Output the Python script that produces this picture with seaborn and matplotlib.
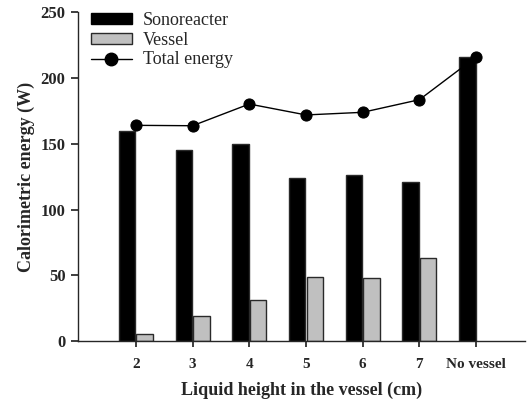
import pandas as pd
import matplotlib
matplotlib.use("Agg")
import matplotlib.pyplot as plt
import seaborn as sns
from matplotlib.patches import Patch
from matplotlib.lines import Line2D

# Data
heights = ['2', '3', '4', '5', '6', '7', 'No vessel']
sonoreacter = [159.5, 145.2, 149.8, 123.7, 126.5, 121.1, 216.0]
vessel = [5.3, 19.3, 30.9, 48.6, 48.1, 63.1]
total_energy = [164.0, 163.7, 180.2, 171.9, 173.9, 183.5, 216.0]

sns.set_theme(style='ticks')
plt.rcParams.update({
    'font.family': ['Liberation Serif', 'DejaVu Serif'],
    'axes.linewidth': 1.0,
})

rows = [(h, 'Sonoreacter', v) for h, v in zip(heights, sonoreacter)]
rows += [(h, 'Vessel', v) for h, v in zip(heights, vessel)]
df = pd.DataFrame(rows, columns=['height', 'series', 'energy'])
df_tot = pd.DataFrame({'height': heights, 'energy': total_energy})

fig = plt.figure(figsize=(5.27, 4.07), dpi=100)
ax = fig.add_axes([0.148, 0.162, 0.848, 0.808])

sns.barplot(data=df, x='height', y='energy', hue='series', order=heights,
            hue_order=['Sonoreacter', 'Vessel'],
            palette={'Sonoreacter': 'black', 'Vessel': '#c0c0c0'},
            width=0.62, gap=0.06, edgecolor='#2a2a2a', linewidth=1.0,
            errorbar=None, legend=False, ax=ax)

sns.pointplot(data=df_tot, x='height', y='energy', order=heights,
              color='black', markers='o', markersize=8, linewidth=1.0,
              errorbar=None, ax=ax)
for coll in ax.collections:
    coll.set_zorder(5)

ax.set_xlim(-1.02, 6.86)
ax.set_ylim(0, 250)
ax.set_yticks(range(0, 251, 50))
sns.despine(ax=ax)

ax.tick_params(axis='x', direction='out', length=4, pad=8, labelsize=11)
ax.tick_params(axis='y', direction='out', length=5, pad=4, labelsize=12)
for lab in ax.get_xticklabels() + ax.get_yticklabels():
    lab.set_fontweight('bold')

ax.set_xlabel('Liquid height in the vessel (cm)', fontsize=13, fontweight='bold', labelpad=8)
ax.set_ylabel('Calorimetric energy (W)', fontsize=13, fontweight='bold', labelpad=4)

handles = [
    Patch(facecolor='black', edgecolor='black', label='Sonoreacter'),
    Patch(facecolor='#c0c0c0', edgecolor='#2a2a2a', label='Vessel'),
    Line2D([0], [0], color='black', lw=1.0, marker='o', markersize=9, label='Total energy'),
]
ax.legend(handles=handles, loc='upper left', bbox_to_anchor=(0.0, 1.04),
          frameon=False, fontsize=13, handlelength=2.3, handleheight=0.55,
          handletextpad=0.6, labelspacing=0.16, borderaxespad=0.3)

fig.savefig('out.png', dpi=100)
